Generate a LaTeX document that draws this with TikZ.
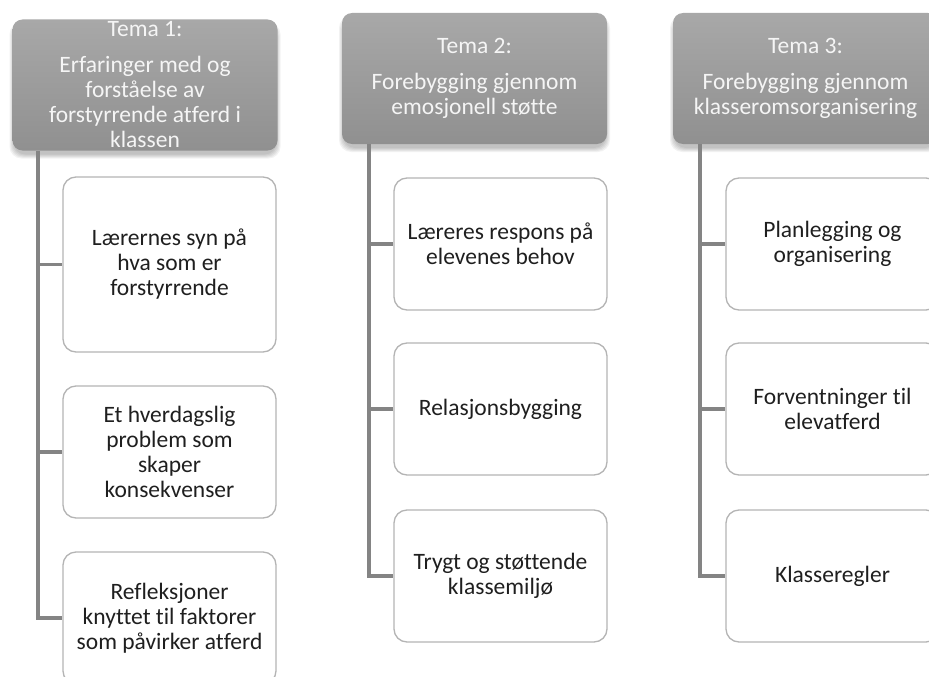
\documentclass[tikz,border=0pt]{standalone}
\usepackage{fontspec}
\setmainfont{Carlito}[Ligatures={NoCommon}]
\definecolor{hdtop}{HTML}{A8A8A8}
\definecolor{hdbot}{HTML}{909090}
\definecolor{hdtext}{HTML}{F5F5F5}
\definecolor{boxline}{HTML}{B4B4B4}
\definecolor{trunk}{HTML}{848484}
\tikzset{
  hdbox/.style={rectangle, rounded corners=10pt, top color=hdtop, bottom color=hdbot,
    draw=none, minimum width=265pt, minimum height=131pt, inner sep=0pt},
  hdtxt/.style={align=center, text=hdtext, font=\fontsize{23.5}{25}\selectfont, inner sep=0pt},
  itembox/.style={rectangle, rounded corners=13pt, draw=boxline, line width=1.3pt, fill=white,
    minimum width=213pt, minimum height=132pt, align=center, inner sep=0pt,
    font=\fontsize{23.5}{25}\selectfont, text=black!88},
  trunkline/.style={draw=trunk, line width=3.1pt}
}
\begin{document}
\begin{tikzpicture}[x=1pt,y=-1pt]
\useasboundingbox (0,0) rectangle (929,677);
\fill[white] (0,0) rectangle (929,677);
% soft shadows of the headers
\foreach \cx/\cy in {145/85, 474.5/78.5, 805.5/78.5}{
  \foreach \i in {0,...,4}{
    \fill[black, opacity=0.05, rounded corners=12pt]
      (\cx-132.5-3+\i, \cy-65.5+6-3+\i) rectangle (\cx+132.5+3-\i, \cy+65.5+5+3-\i);
  }
}
% headers
\node[hdbox] (h1) at (145,85) {};
\node[hdbox] (h2) at (474.5,78.5) {};
\node[hdbox] (h3) at (805.5,78.5) {};
\node[hdtxt] (t1) at (h1.center) {Tema 1:\\[11pt]Erfaringer med og\\forståelse av\\forstyrrende atferd i\\klassen};
\node[hdtxt] (t2) at (h2.center) {Tema 2:\\[11pt]Forebygging gjennom\\emosjonell støtte};
\node[hdtxt] (t3) at (h3.center) {Tema 3:\\[11pt]Forebygging gjennom\\klasseromsorganisering};
% trunk start points
\coordinate (s1) at (38,151);
\coordinate (s2) at (369,144);
\coordinate (s3) at (700,144);
% items
\node[itembox, minimum height=175pt] (a1) at (169.5,264.5) {Lærernes syn på\\hva som er\\forstyrrende};
\node[itembox] (a2) at (169.5,452) {Et hverdagslig\\problem som\\skaper\\konsekvenser};
\node[itembox] (a3) at (169.5,618) {Refleksjoner\\knyttet til faktorer\\som påvirker atferd};
\node[itembox] (b1) at (500.5,244) {Læreres respons på\\elevenes behov};
\node[itembox] (b2) at (500.5,409) {Relasjonsbygging};
\node[itembox] (b3) at (500.5,576) {Trygt og støttende\\klassemiljø};
\node[itembox] (c1) at (832.5,244) {Planlegging og\\organisering};
\node[itembox] (c2) at (832.5,409) {Forventninger til\\elevatferd};
\node[itembox] (c3) at (832.5,576) {Klasseregler};
% connectors
\draw[trunkline] (s1) |- (a1.west);
\draw[trunkline] (s1) |- (a2.west);
\draw[trunkline] (s1) |- (a3.west);
\draw[trunkline] (s2) |- (b1.west);
\draw[trunkline] (s2) |- (b2.west);
\draw[trunkline] (s2) |- (b3.west);
\draw[trunkline] (s3) |- (c1.west);
\draw[trunkline] (s3) |- (c2.west);
\draw[trunkline] (s3) |- (c3.west);
\end{tikzpicture}
\end{document}
